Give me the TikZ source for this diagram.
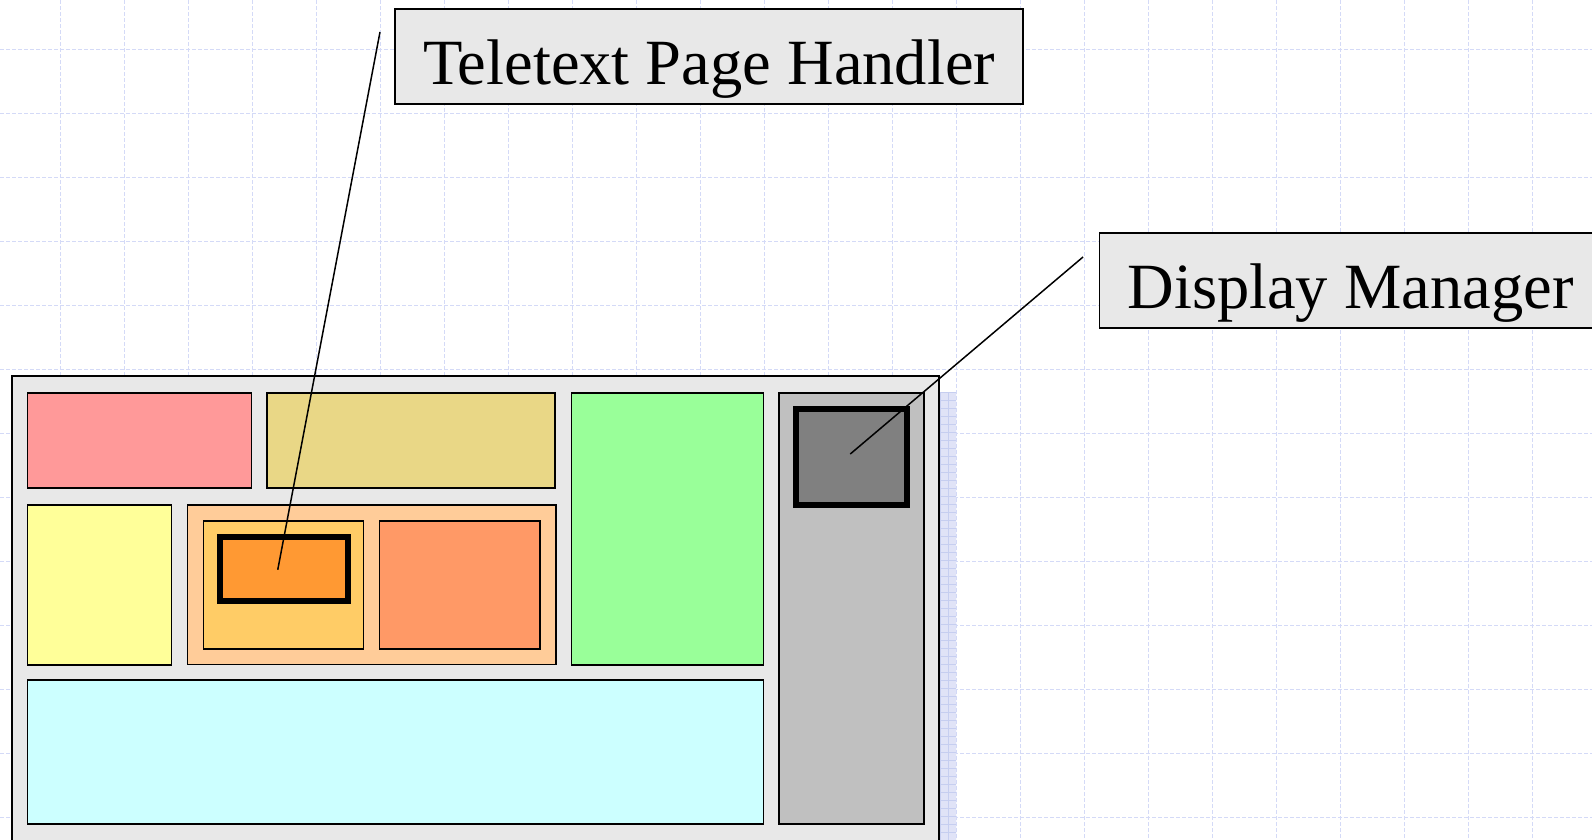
\documentclass[tikz,border=0pt]{standalone}
\usepackage{fontspec}
\setmainfont{Liberation Serif}
\usetikzlibrary{calc}

\definecolor{cGrid}{HTML}{D4DAF7}
\definecolor{cShadow}{HTML}{E0E3F7}
\definecolor{cShadowGrid}{HTML}{C6CEF0}
\definecolor{cFrame}{HTML}{E8E8E8}
\definecolor{cRed}{HTML}{FF9999}
\definecolor{cKhaki}{HTML}{E9D786}
\definecolor{cGreen}{HTML}{99FF99}
\definecolor{cGray}{HTML}{C0C0C0}
\definecolor{cDark}{HTML}{808080}
\definecolor{cLemon}{HTML}{FFFF99}
\definecolor{cPeach}{HTML}{FFCC99}
\definecolor{cApricot}{HTML}{FFCC66}
\definecolor{cSalmon}{HTML}{FF9966}
\definecolor{cOrange}{HTML}{FF9933}
\definecolor{cCyan}{HTML}{CCFFFF}

\tikzset{
  gridline/.style={cGrid, line width=0.9pt, dash pattern=on 4pt off 2pt},
  panel/.style={draw=black, line width=1.6pt, anchor=north west,
    inner sep=0pt, outer sep=0pt},
  heavy/.style={panel, line width=6pt},
  tagbox/.style={draw=black, line width=1.6pt, fill=cFrame, anchor=north west,
    minimum height=95pt, inner xsep=28pt, inner ysep=0pt, outer sep=0pt,
    text height=62pt, text depth=6pt,
    font=\fontsize{64.5}{76}\selectfont},
  leader/.style={black, line width=1.5pt}
}

\begin{document}
\begin{tikzpicture}[x=1pt, y=-1pt]
\useasboundingbox (0,0) rectangle (1592,839);
\fill[white] (0,0) rectangle (1592,839);

% background grid
\foreach \gx in {60,124,...,1596} \draw[gridline] (\gx,0) -- (\gx,839);
\foreach \gy in {49,113,...,817} \draw[gridline] (0,\gy) -- (1592,\gy);

% drop shadow on the right of the screen
\fill[cShadow] (940,392) rectangle (956,845);
\begin{scope}
  \clip (940,392) rectangle (956,845);
  \foreach \sx in {940,948,...,956} \draw[cShadowGrid, line width=0.6pt] (\sx,392) -- (\sx,845);
  \foreach \sy in {392,400,...,845} \draw[cShadowGrid, line width=0.6pt] (940,\sy) -- (956,\sy);
\end{scope}

% screen frame
\node[panel, line width=2pt, fill=cFrame, minimum width=927pt, minimum height=500pt] (frame) at (12,376) {};

% screen regions
\node[panel, fill=cRed,   minimum width=224pt, minimum height=95pt]  (red)   at (27.5,393) {};
\node[panel, fill=cKhaki, minimum width=288pt, minimum height=95pt]  (khaki) at (267,393) {};
\node[panel, fill=cGreen, minimum width=192pt, minimum height=272pt] (green) at (571.5,393) {};
\node[panel, fill=cGray,  minimum width=145pt, minimum height=431pt] (gray)  at (779,393) {};
\node[heavy, fill=cDark,  minimum width=111.5pt, minimum height=96pt] (dark) at (795.5,409) {};
\node[panel, fill=cLemon, minimum width=144pt, minimum height=160pt] (lemon) at (27.5,505) {};
\node[panel, fill=cPeach, minimum width=368.5pt, minimum height=159.5pt] (peach) at (187.5,505) {};
\node[panel, fill=cApricot, minimum width=160pt, minimum height=128pt] (apricot) at (203.5,521) {};
\node[panel, fill=cSalmon,  minimum width=160.5pt, minimum height=128pt] (salmon) at (379.5,521) {};
\node[heavy, fill=cOrange,  minimum width=128.5pt, minimum height=63.5pt] (orange) at (219.5,537) {};
\node[panel, fill=cCyan,  minimum width=736pt, minimum height=144pt] (cyan)  at (27.5,680) {};

% callouts
\node[tagbox] (ttlabel) at (395,9) {Teletext Page Handler};
\node[tagbox] (dmlabel) at (1099.5,233) {Display Manager};

\coordinate (ttfoot) at (380,32);
\coordinate (dmfoot) at (1083,257);
\draw[leader] (ttfoot) -- ($(orange.center)+(-6,1)$);
\draw[leader] (dmfoot) -- ($(dark.center)+(-1,-3)$);
\end{tikzpicture}
\end{document}
